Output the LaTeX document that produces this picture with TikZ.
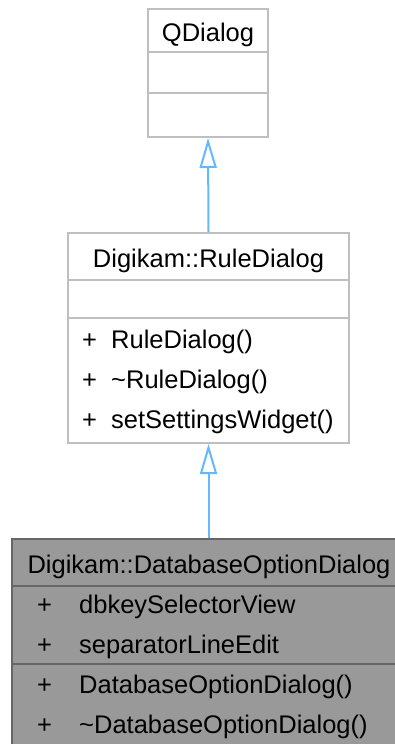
\documentclass[tikz,border=0pt]{standalone}
\usepackage{fontspec}
\setmainfont{Liberation Sans}
\usetikzlibrary{arrows.meta,positioning,calc}
\definecolor{boxgray}{HTML}{BFBFBF}
\definecolor{curfill}{HTML}{999999}
\definecolor{curdraw}{HTML}{666666}
\definecolor{inhblue}{HTML}{63B8FF}
\tikzset{
  clsblk/.style={draw=boxgray,line width=2pt,fill=white,rectangle,inner sep=0pt},
  curblk/.style={clsblk,fill=curfill,draw=curdraw},
  divline/.style={draw=boxgray,line width=2pt},
  curdiv/.style={draw=curdraw,line width=2pt},
  ttl/.style={anchor=base,inner sep=0pt,font=\fontsize{25.5}{30}\selectfont},
  mem/.style={anchor=base west,inner sep=0pt,font=\fontsize{25.5}{30}\selectfont},
  inh/.style={-{Triangle[open,length=30pt,width=17pt]},draw=inhblue,line width=2pt}
}
\begin{document}
\begin{tikzpicture}[x=1pt,y=-1pt]
  \useasboundingbox (0,0) rectangle (394,744);

  % base class
  \node[clsblk, minimum width=120pt, minimum height=128pt] (qdialog) at (208,73) {};
  \draw[divline] ($(qdialog.north west)+(0,44)$) -- ($(qdialog.north east)+(0,44)$);
  \draw[divline] ($(qdialog.north west)+(0,85)$) -- ($(qdialog.north east)+(0,85)$);
  \node[ttl] (qdttl) at (208,41) {QDialog};

  % middle class
  \node[clsblk, minimum width=281pt, minimum height=210pt] (rule) at (208.5,338) {};
  \draw[divline] ($(rule.north west)+(0,48)$) -- ($(rule.north east)+(0,48)$);
  \draw[divline] ($(rule.north west)+(0,86)$) -- ($(rule.north east)+(0,86)$);
  \node[ttl] (rulettl) at (208.5,267) {Digikam::RuleDialog};
  \node[mem] (rp1) at (82,348) {+};
  \node[mem] (rm1) at (111,348) {RuleDialog()};
  \node[mem] (rp2) at (82,388) {+};
  \node[mem] (rm2) at (111,388) {\char`~RuleDialog()};
  \node[mem] (rp3) at (82,428) {+};
  \node[mem] (rm3) at (111,428) {setSettingsWidget()};

  % current class
  \node[curblk, minimum width=393pt, minimum height=221pt] (dbopt) at (208.5,649.5) {};
  \draw[curdiv] ($(dbopt.north west)+(0,48)$) -- ($(dbopt.north east)+(0,48)$);
  \draw[curdiv] ($(dbopt.north west)+(0,126)$) -- ($(dbopt.north east)+(0,126)$);
  \node[ttl] (dbttl) at (209,573) {Digikam::DatabaseOptionDialog};
  \node[mem] (dp1) at (37,613) {+};
  \node[mem] (da1) at (79,613) {dbkeySelectorView};
  \node[mem] (dp2) at (37,653) {+};
  \node[mem] (da2) at (79,653) {separatorLineEdit};
  \node[mem] (dp3) at (37,693) {+};
  \node[mem] (dm1) at (79,693) {DatabaseOptionDialog()};
  \node[mem] (dp4) at (37,733) {+};
  \node[mem] (dm2) at (79,733) {\char`~DatabaseOptionDialog()};

  % inheritance
  \draw[inh] (rule.north) -- (qdialog.south);
  \draw[inh] (dbopt.north) -- (rule.south);
\end{tikzpicture}
\end{document}
